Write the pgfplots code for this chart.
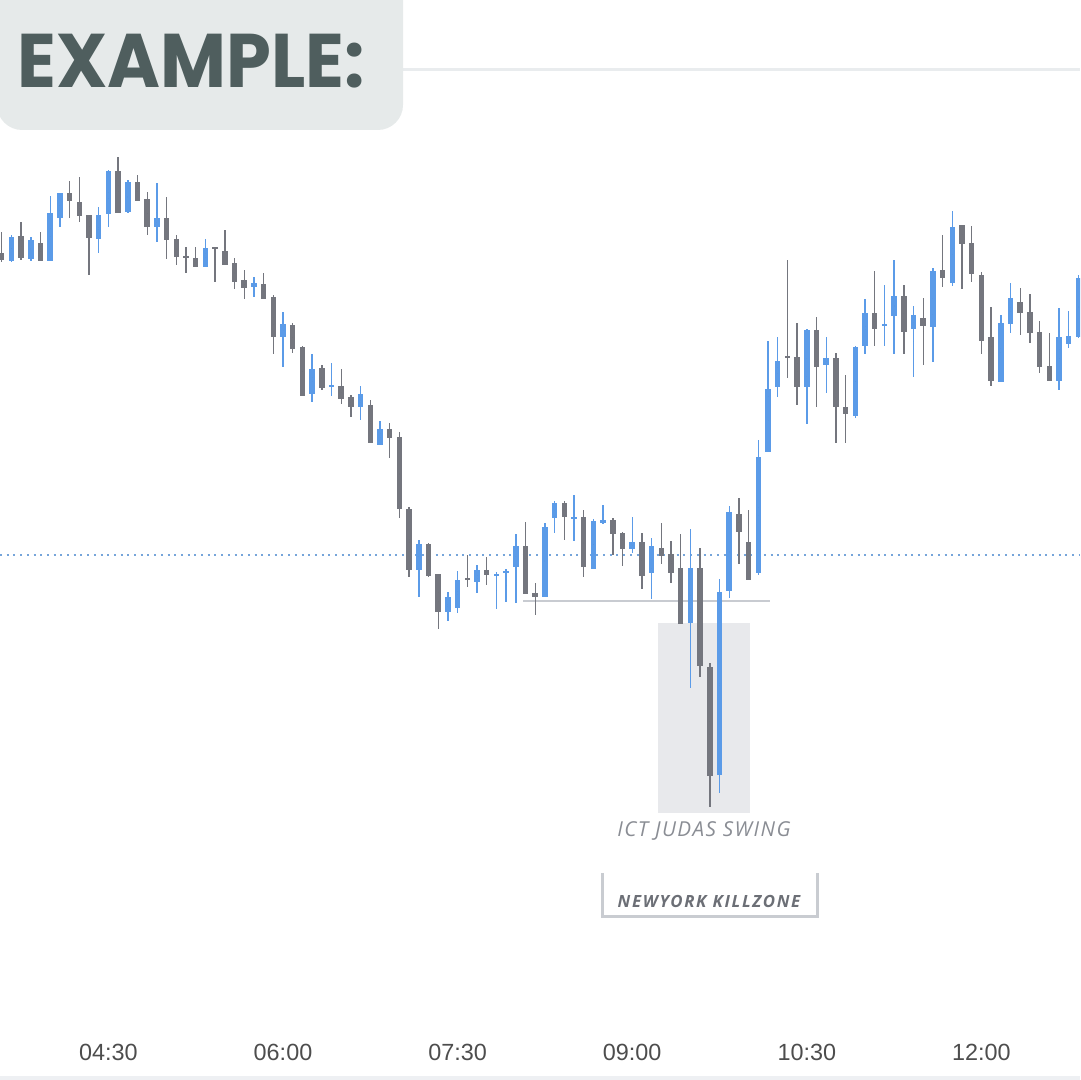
\documentclass[border=0pt]{standalone}
\usepackage{pgfplots}
\usepackage{pgfplotstable}
\usepackage{graphicx}
\pgfplotsset{compat=1.18}
\usepackage{fontspec}
\setmainfont{Liberation Sans}
\newfontfamily\titlefont{Poppins}
\newfontfamily\annfont[LetterSpace=7]{Open Sans}
\newfontfamily\kzfont[LetterSpace=10]{Open Sans}

\definecolor{cblue}{HTML}{5B9BE8}
\definecolor{cgray}{HTML}{74767E}
\definecolor{boxgray}{HTML}{E6EAEA}
\definecolor{titlecol}{HTML}{4F5E5E}
\definecolor{sepgray}{HTML}{E9ECEE}
\definecolor{dotblue}{HTML}{76A5DA}
\definecolor{linegray}{HTML}{C8CBD1}
\definecolor{boxfill}{HTML}{E8E9EC}
\definecolor{anngray}{HTML}{8A8D94}
\definecolor{kzgray}{HTML}{6C6F76}
\definecolor{bracketgray}{HTML}{C9CCD1}
\definecolor{tickgray}{HTML}{4D4D4D}
\definecolor{stripgray}{HTML}{EEF0F3}

% candle index, body top, body bottom, high, low (pixel rows from top)
% blue (rising) candles
\pgfplotstableread{
i bt bb h l
1 236.7 260.7 235 261.7
3 240 259.3 237.3 260.7
5 212.7 260.7 196 261
6 193.3 218.3 193 227.3
10 215 239.3 206.7 253.3
11 170.7 214 170 227.3
13 182.3 212 180 213
16 218.3 227.3 182.7 241.7
21 248.3 267.3 239.3 267.5
26 283.3 287.3 276.7 297.3
29 324 337.3 311.7 367.3
32 369.3 394 354 401.7
34 384.7 386.7 363.3 396
37 394 407.3 386 420
39 429.3 445 420.7 445.5
43 544 570 540 596.7
46 596.7 611.7 591.7 620.7
47 580 608.3 570.7 613.3
49 570 581.7 565 592.7
51 574.3 576.3 571.7 609.3
52 570.7 572.7 569.3 601.7
53 546 567.3 534 602.7
56 526.7 597.3 522.7 597.5
57 503.3 518.3 500.7 533.3
59 517.3 519.3 495 540.7
61 520.7 569.3 519.3 569.5
62 520 523 505 524
65 541.7 549.3 517.3 552.7
67 546 573.3 538.3 599.3
71 568.3 622.7 529.3 688.3
74 591.7 775 579.3 792.7
75 511.7 590.7 506 598.3
78 457.3 573.3 440 575
79 389.3 451.7 340.7 452
80 360.7 387.3 337.3 397.3
83 330 387.3 329.5 424
85 358.3 365 337.3 393.3
88 346.7 416 346 418
89 313.3 346 299.3 354
91 324 326 285 346
92 296 316 260 354
94 315 329.3 306 376.7
96 270.7 327.3 268.3 361.7
98 227.3 282.7 210.7 286
103 322.7 381.7 315 382
104 298.3 324 282.7 332.7
109 337.3 380.7 308.3 390
110 336 344 310.7 348.3
111 278.3 337.3 275 338
}\bluecandles

% gray (falling) candles
\pgfplotstableread{
i bt bb h l
0 252.7 260 231.7 262
2 236 258 221.7 260
4 243.3 260.7 231.7 261
7 193.3 200.7 180.7 218.3
8 201.7 216 176.7 221.7
9 215 238.3 215 275
12 170.7 212.7 157.3 213
14 181.7 200.7 175 201.5
15 199.3 227.3 191.7 235
17 218.3 240 197.3 259.3
18 239.3 257.3 235 265
19 256 258 246.7 272.7
20 258.3 267.3 246.7 267.5
22 247.5 249.5 246.7 281.7
23 250.7 265 230 265.5
24 263.3 281.7 258.3 289.3
25 280.5 288.5 270 299
27 284 299.3 272.7 299.5
28 297.3 337.3 295 354
30 325 349.3 322.7 352.7
31 346.7 396 346 396.5
33 368.3 388.3 365 390
35 386 399.3 369.3 404
36 397.3 407.3 395 416.7
38 405 442.7 400 443
40 429.3 438.3 422.7 458.3
41 437.3 509.3 431.7 518.3
42 509.3 570 507.3 577.3
44 544 576 543.3 577.3
45 574 611.7 574 629.3
48 577.7 579.7 555 586.7
50 570 575.5 557.3 585
54 546 594 521.7 594.5
55 593.3 597.3 582.7 615
58 503.3 517.3 500.7 540
60 517.3 567.3 510 577.3
63 520 534 518.3 555
64 532.7 549.3 532.5 566
66 541.7 576 532.7 589.3
68 548.3 556 522.7 564
69 554 573.3 540.7 582.7
70 568.3 624 534 624.5
72 568.3 666 548.3 677.3
73 667.3 776 662.7 807.3
76 514 531.7 498.3 564
77 541.7 580 510 580.5
81 356 358.3 260 378.3
82 356.7 387.3 322.7 405
84 330 366.7 316.7 406.7
86 358.3 406.7 352.7 442.7
87 407.3 414.5 375 442.7
90 313.3 329.3 270.7 346
93 296 331.7 285 354
95 318.3 326 298.3 365
97 270 278.3 235 287.3
99 225 244 225 289.3
100 242.7 274 226 281.7
101 275 340.7 271.7 354
102 337.3 380.7 307.3 386
105 301.7 312.7 288.3 335
106 311.7 332.7 294 342.7
107 331.7 367.3 320.7 373.3
108 366 380.7 333.3 381
}\graycandles

\pgfplotsset{
  wick/.style={only marks, mark=*, mark size=0pt, mark options={draw=none, fill=none}, forget plot,
    error bars/.cd, y dir=both, y explicit, error mark=none,
    error bar style={line width=0.7pt, color=#1}},
  body/.style={only marks, mark=*, mark size=0pt, mark options={draw=none, fill=none}, forget plot,
    error bars/.cd, y dir=both, y explicit, error mark=none,
    error bar style={line width=2.75pt, color=#1, line cap=butt}},
}

\begin{document}
\begin{tikzpicture}
\begin{axis}[
  scale only axis, width=540pt, height=540pt,
  xmin=0, xmax=1080, ymin=0, ymax=1080,
  axis line style={draw=none},
  tick style={draw=none},
  major tick length=0pt,
  ytick=\empty,
  xtick={108.4,283,457.6,632.2,806.8,981.4},
  xticklabels={04:30,06:00,07:30,09:00,10:30,12:00},
  xticklabel style={anchor=center, yshift=14pt, font=\fontsize{11.7}{13}\selectfont, text=tickgray},
]
% background annotations
\fill[stripgray] (axis cs:0,0) rectangle (axis cs:1080,4);
\fill[boxfill] (axis cs:658,267) rectangle (axis cs:750,457);
\draw[linegray, line width=1.4pt] (axis cs:523,479) -- (axis cs:770,479);
\draw[dotblue, line width=1pt, dash pattern=on 1pt off 2.35pt] (axis cs:0,525) -- (axis cs:1080,525);

% gray candles
\addplot[wick=cgray]
  table[x expr=1.7+9.7*\thisrow{i}, y expr=1080-(\thisrow{h}+\thisrow{l})/2,
        y error expr=(\thisrow{l}-\thisrow{h})/2] {\graycandles};
\addplot[body=cgray]
  table[x expr=1.7+9.7*\thisrow{i}, y expr=1080-(\thisrow{bt}+\thisrow{bb})/2,
        y error expr=(\thisrow{bb}-\thisrow{bt})/2] {\graycandles};
% blue candles
\addplot[wick=cblue]
  table[x expr=1.7+9.7*\thisrow{i}, y expr=1080-(\thisrow{h}+\thisrow{l})/2,
        y error expr=(\thisrow{l}-\thisrow{h})/2] {\bluecandles};
\addplot[body=cblue]
  table[x expr=1.7+9.7*\thisrow{i}, y expr=1080-(\thisrow{bt}+\thisrow{bb})/2,
        y error expr=(\thisrow{bb}-\thisrow{bt})/2] {\bluecandles};
\end{axis}

\begin{scope}[shift={(0pt,540pt)}, x=0.5pt, y=-0.5pt]
  \draw[sepgray, line width=1.5pt] (403,70) -- (1080,70);
  \fill[boxgray, rounded corners=12.5pt] (-3,-40) rectangle (403,130);
  \node[anchor=base west, inner sep=0pt, text=titlecol,
        font=\titlefont\bfseries\fontsize{38}{40}\selectfont] at (17,88) {\scalebox{0.945}[1]{EXAMPLE:}};
  \node[text=anngray, inner sep=0pt, font=\annfont\itshape\fontsize{10.3}{12}\selectfont] at (704,831) {ICT JUDAS SWING};
  \draw[bracketgray, line width=1.5pt] (602,873) -- (602,917) -- (817,917) -- (817,873);
  \node[text=kzgray, inner sep=0pt, font=\kzfont\bfseries\itshape\fontsize{8.4}{10}\selectfont] at (709,901) {NEWYORK KILLZONE};
\end{scope}

\pgfresetboundingbox
\path[use as bounding box] (0,0) rectangle (540pt,540pt);
\end{tikzpicture}
\end{document}
